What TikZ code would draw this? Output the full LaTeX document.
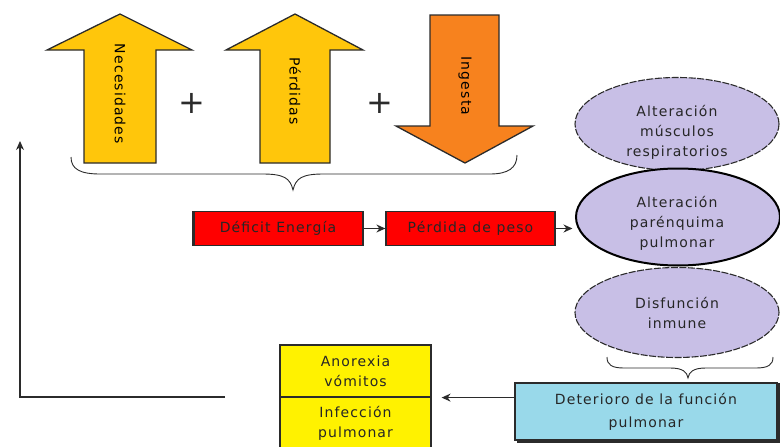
\documentclass[tikz,border=0pt]{standalone}
\usepackage{fontspec}
\setmainfont{DejaVu Sans}[LetterSpace=8]
\usetikzlibrary{arrows.meta,shapes.geometric}
\definecolor{gold}{HTML}{FFC60B}
\definecolor{orng}{HTML}{F7821E}
\definecolor{boxred}{HTML}{FF0000}
\definecolor{lav}{HTML}{C8BFE6}
\definecolor{ylw}{HTML}{FFF200}
\definecolor{lblue}{HTML}{99D9EA}
\definecolor{edge}{HTML}{2B2B2B}
\definecolor{txtgray}{HTML}{262626}
\tikzset{
  txt/.style={font=\fontsize{14}{20}\selectfont, text=txtgray, align=center},
  arrtxt/.style={font=\fontsize{14}{20}\selectfont, text=black, inner sep=0pt},
  rectbox/.style={draw=edge, line width=1.2pt, inner sep=0pt, txt},
  redbox/.style={rectbox, fill=boxred, minimum width=170pt, minimum height=34pt},
  ybox/.style={rectbox, fill=ylw, minimum width=151pt},
  ell/.style={ellipse, fill=lav, minimum width=204pt, minimum height=93pt, inner sep=0pt},
  dashell/.style={ell, draw=edge, line width=1.1pt, dash pattern=on 7pt off 1.5pt},
  solidell/.style={ell, draw=black, line width=2pt},
  arr/.style={draw=edge, line width=1.3pt, -{Stealth[length=9pt,width=8pt]}},
  bigarrow/.style={draw=edge, line width=1.3pt, line join=miter},
  bracepath/.style={draw=edge, line width=0.9pt},
  plus/.style={font=\fontsize{32}{32}\selectfont\rmfamily, text=edge, inner sep=0pt}
}
\begin{document}
\begin{tikzpicture}[x=1pt,y=-1pt]
\useasboundingbox (0,0) rectangle (780,447);

% big arrows
\draw[bigarrow, fill=gold] (84,163) -- (84,50) -- (47,50) -- (120,14) -- (192,50) -- (156,50) -- (156,163) -- cycle;
\draw[bigarrow, fill=gold] (260,163) -- (260,50) -- (226,50) -- (295,14) -- (363,50) -- (330,50) -- (330,163) -- cycle;
\draw[bigarrow, fill=orng] (430,15) -- (499,15) -- (499,126) -- (533,126) -- (465,163) -- (396,126) -- (430,126) -- cycle;
\node[arrtxt, rotate=-90] (nec) at (120,94) {Necesidades};
\node[arrtxt, rotate=-90] (per) at (295,91) {Pérdidas};
\node[arrtxt, rotate=-90] (ing) at (465,86) {Ingesta};
\node[plus] (plus1) at (192,103) {+};
\node[plus] (plus2) at (380,103) {+};

% top brace
\draw[bracepath] (71,157) .. controls (71,169) and (80,174) .. (100,174) -- (262,174)
  .. controls (284,174) and (290,178) .. (293,190)
  .. controls (296,178) and (302,174) .. (324,174) -- (490,174)
  .. controls (508,174) and (517,168) .. (517,155);

% red boxes
\node[redbox] (def) at (278,228.5) {Déficit Energía};
\node[redbox, minimum width=169pt] (perd) at (470.5,228.5) {Pérdida de peso};
\draw[edge, line width=2.5pt] ([xshift=1pt]def.north west) -- ([xshift=1pt]def.south west);

% ellipses
\node[dashell] (e1) at (677,124) {};
\node[dashell, minimum height=90pt] (e3) at (677,312.5) {};
\node[solidell, minimum height=97pt] (e2) at (678,217) {};
\node[txt] (e1t) at (677,132) {Alteración\\músculos\\respiratorios};
\node[txt] (e2t) at (677,223) {Alteración\\parénquima\\pulmonar};
\node[txt] (e3t) at (677,313) {Disfunción\\inmune};

% arrows between red boxes and ellipse
\draw[arr] (def.east) -- (perd.west);
\draw[arr, shorten >=2.5pt] (perd.east) -- (perd.east -| e2.west);

% lower brace
\draw[bracepath] (607,357) .. controls (607,365) and (612,368) .. (624,368) -- (670,368)
  .. controls (683,368) and (687,372) .. (688,378)
  .. controls (689,372) and (693,368) .. (706,368) -- (756,368)
  .. controls (768,368) and (773,365) .. (773,357);

% deterioro box
\node[rectbox, fill=lblue, minimum width=262pt, minimum height=57pt, font=\fontsize{14}{23}\selectfont] (det) at (646,411.5) {Deterioro de la función\\pulmonar};
\draw[edge, line width=2.5pt] ([xshift=1pt,yshift=-1pt]det.north east) -- ([xshift=1pt,yshift=-1pt]det.south east) -- ([xshift=3pt,yshift=-1pt]det.south west);

% yellow boxes
\node[ybox, minimum height=52pt] (ya) at (355.5,371) {Anorexia\\vómitos};
\node[ybox, minimum height=53pt] (yb) at (355.5,423.5) {Infección\\pulmonar};

\coordinate (detin) at (det.west |- ya.south);
\coordinate (yin) at ([xshift=10pt]ya.south east);
\draw[arr] (detin) -- (yin);

% feedback line
\coordinate (fbstart) at (225,397);
\coordinate (fbcorner) at (20,397);
\coordinate (fbend) at (20,141);
\draw[arr] (fbstart) -- (fbcorner) -- (fbend);
\end{tikzpicture}
\end{document}
